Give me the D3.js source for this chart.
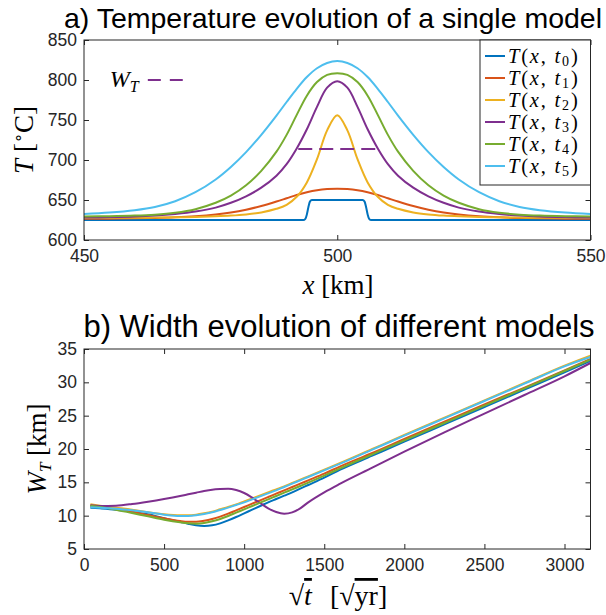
<!DOCTYPE html>
<html><head><meta charset="utf-8">
<script src="https://cdn.jsdelivr.net/npm/d3@7"></script>
<style>body{margin:0;background:#fff} svg{display:block}</style>
</head><body>
<svg id="c" width="606" height="615"></svg>
<script>
// ---------- DATA ----------
const colors = ["#0072BD","#D95319","#EDB120","#7E2F8E","#77AC30","#4DBEEE"];

// panel a: temperature profiles
const xKm0 = [450,493.3,493.7,494,494.3,494.6,495,505,505.4,505.7,506,506.3,506.7,550];
const T0   = [625,625,626.5,632,641,648,650,650,648,641,632,626.5,625,625];
const xKm = [450,455,460,464,468,472,476,479,482,485,488,490,492,494,496,498,500,502,504,506,508,510,512,515,518,521,524,528,532,536,540,545,550];
const T1 = [626.5,626.7,627.05,627.55,628.35,629.7,631.9,634.4,637.9,642.5,648.1,652.2,656.3,659.7,662.2,663.6,664,663.6,662.2,659.7,656.3,652.2,648.1,642.5,637.9,634.4,631.9,629.7,628.35,627.55,627.05,626.7,626.5];
const T2 = [627.5,627.6,627.8,628,628.3,628.8,629.6,630.5,632,634.5,639,644,654,672,701,737,756,737,701,672,654,644,639,634.5,632,630.5,629.6,628.8,628.3,628,627.8,627.6,627.5];
const T3 = [628,628.5,629.3,630.5,632.5,635.5,640.5,646.5,654.6,665.4,680.4,694.8,714.4,738.4,766.4,790.4,798.4,790.4,766.4,738.4,714.4,694.8,680.4,665.4,654.6,646.5,640.5,635.5,632.5,630.5,629.3,628.5,628];
const T4 = [629.5,629.8,630.5,631.7,634.1,638.5,646.5,655.5,668.4,686.4,710.4,731.4,756.4,780.4,797.4,806.4,808.4,806.4,797.4,780.4,756.4,731.4,710.4,686.4,668.4,655.5,646.5,638.5,634.1,631.7,630.5,629.8,629.5];
const T5 = [632.5,634.3,637.3,641.3,648.5,659.7,675.7,691.3,709.9,731.5,755.5,772.5,789,803.7,814.7,821.3,823.6,821.3,814.7,803.7,789,772.5,755.5,731.5,709.9,691.3,675.7,659.7,648.5,641.3,637.3,634.3,632.5];
const xTicksA = [450,500,550];
const yTicksA = [600,650,700,750,800,850];
const legendSubs = ["0","1","2","3","4","5"];
const wtLevel = 713.9, wtFrom = 492.3, wtTo = 507.7;      // W_T dashed marker
const wtKeyT = 800, wtKeyFrom = 462.6, wtKeyTo = 469.5;    // annotation key

// panel b: width evolution
const sqrtT = [40,100,200,300,400,500,600,650,700,750,800,850,900,950,1000,1050,1100,1150,1200,1250,1300,1350,1400,1500,1600,1800,2000,2250,2500,2750,3000,3162];
const W1 = [11.2,11.1,10.9,10.6,10.2,9.6,9.1,8.8,8.55,8.45,8.55,8.85,9.3,9.8,10.35,10.9,11.45,12.0,12.5,13.0,13.5,14.05,14.6,15.7,16.9,19.0,21.1,23.7,26.3,28.9,31.5,33.2];
const W2 = [11.5,11.3,11.0,10.6,10.1,9.6,9.2,9.1,9.1,9.25,9.5,9.85,10.3,10.8,11.3,11.8,12.3,12.8,13.3,13.8,14.3,14.8,15.3,16.3,17.4,19.4,21.5,24.1,26.7,29.2,31.8,33.5];
const W3 = [11.7,11.5,11.2,10.9,10.5,10.2,10.05,10.05,10.15,10.35,10.6,10.95,11.3,11.7,12.15,12.6,13.05,13.5,13.95,14.4,14.9,15.4,15.9,16.9,17.9,20.0,22.1,24.7,27.3,29.9,32.5,34.0];
const W4 = [11.55,11.45,11.5,11.75,12.1,12.5,12.95,13.2,13.45,13.7,13.9,14.0,14.05,13.85,13.4,12.7,11.9,11.1,10.55,10.3,10.5,11.1,12.0,13.5,14.8,17.2,19.6,22.5,25.3,28.1,30.9,32.9];
const W5 = [11.5,11.3,10.9,10.4,9.9,9.4,9.0,8.85,8.8,8.9,9.15,9.5,9.95,10.45,10.95,11.45,11.95,12.45,12.95,13.45,13.95,14.45,14.95,16.0,17.1,19.2,21.3,23.9,26.5,29.1,31.7,33.4];
const W6 = [11.25,11.2,11.05,10.8,10.5,10.15,9.95,9.95,10.05,10.25,10.5,10.85,11.2,11.6,12.0,12.45,12.9,13.35,13.8,14.3,14.8,15.3,15.8,16.8,17.8,19.9,22.0,24.6,27.2,29.8,32.4,33.8];
const xTicksB = [0,500,1000,1500,2000,2500,3000];
const yTicksB = [5,10,15,20,25,30,35];

// ---------- DRAW ----------
const svg = d3.select("#c");
const AX = "#262626";
const SANS = "'Liberation Sans', Arial, sans-serif";
const SERIF = "'Liberation Serif', 'Times New Roman', serif";

function frame(x, y, xt, yt) {
  const g = svg.append("g");
  const [x0,x1] = x.range(), [y1,y0] = y.range();
  const style = sel => {
    sel.select(".domain").remove();
    sel.selectAll("line").attr("stroke", AX);
    sel.selectAll("text").attr("fill", AX).style("font-family", SANS).style("font-size","17.5px");
  };
  g.append("g").attr("transform",`translate(0,${y1})`)
    .call(d3.axisBottom(x).tickValues(xt).tickSizeInner(-5).tickSizeOuter(0).tickPadding(10).tickFormat(d3.format("d"))).call(style);
  g.append("g").attr("transform",`translate(0,${y0})`)
    .call(d3.axisTop(x).tickValues(xt).tickSizeInner(-5).tickSizeOuter(0).tickFormat("")).call(style);
  g.append("g").attr("transform",`translate(${x0},0)`)
    .call(d3.axisLeft(y).tickValues(yt).tickSizeInner(-5).tickSizeOuter(0).tickPadding(7).tickFormat(d3.format("d"))).call(style);
  g.append("g").attr("transform",`translate(${x1},0)`)
    .call(d3.axisRight(y).tickValues(yt).tickSizeInner(-5).tickSizeOuter(0).tickFormat("")).call(style);
  g.append("rect").attr("x",x0).attr("y",y0).attr("width",x1-x0).attr("height",y1-y0)
    .attr("fill","none").attr("stroke",AX).attr("stroke-width",1);
}

// Panel a
const xA = d3.scaleLinear().domain([450,550]).range([84,590.5]);
const yA = d3.scaleLinear().domain([600,850]).range([240,40]);
const lineA = (xs, c) => d3.line().x((d,i)=>xA(xs[i])).y(d=>yA(d)).curve(c);
const seriesA = [T0,T1,T2,T3,T4,T5];
const gA = svg.append("g");
seriesA.forEach((s,k)=>{
  const c = k===0 ? d3.curveMonotoneX : d3.curveCatmullRom.alpha(0.5);
  gA.append("path").attr("d", lineA(k===0?xKm0:xKm, c)(s)).attr("fill","none")
    .attr("stroke",colors[k]).attr("stroke-width",2);
});
gA.append("line").attr("x1",xA(wtFrom)).attr("x2",xA(wtTo)).attr("y1",yA(wtLevel)).attr("y2",yA(wtLevel))
  .attr("stroke",colors[3]).attr("stroke-width",2).attr("stroke-dasharray","14,7");
gA.append("line").attr("x1",xA(wtKeyFrom)).attr("x2",xA(wtKeyTo)).attr("y1",yA(wtKeyT)).attr("y2",yA(wtKeyT))
  .attr("stroke",colors[3]).attr("stroke-width",2).attr("stroke-dasharray","13,9");
const wk = svg.append("text").attr("x",xA(wtKeyFrom)-38).attr("y",yA(wtKeyT)+7)
  .style("font-family",SERIF).style("font-size","24px").attr("fill","#000");
wk.append("tspan").style("font-style","italic").text("W");
wk.append("tspan").style("font-style","italic").style("font-size","16px").attr("dy",5).text("T");

frame(xA,yA,xTicksA,yTicksA);

// legend
const lg = svg.append("g");
lg.append("rect").attr("x",480).attr("y",40).attr("width",110.5).attr("height",145)
  .attr("fill","#fff").attr("stroke",AX).attr("stroke-width",1);
legendSubs.forEach((s,k)=>{
  const cy = 56 + k*22;
  lg.append("line").attr("x1",485).attr("x2",505).attr("y1",cy).attr("y2",cy)
    .attr("stroke",colors[k]).attr("stroke-width",2);
  const t = lg.append("text").attr("x",508).attr("y",cy+6.5)
    .style("font-family",SERIF).style("font-size","20.5px").style("letter-spacing","1.8px").attr("fill","#000");
  t.append("tspan").style("font-style","italic").text("T");
  t.append("tspan").text("(");
  t.append("tspan").style("font-style","italic").text("x");
  t.append("tspan").text(", ");
  t.append("tspan").style("font-style","italic").text("t");
  t.append("tspan").style("font-size","14px").attr("dy",3.5).text(s);
  t.append("tspan").attr("dy",-3.5).text(")");
});

// titles / labels panel a
svg.append("text").attr("x",333).attr("y",28).attr("text-anchor","middle")
  .style("font-family",SANS).style("font-size","28.5px").attr("fill","#000")
  .text("a) Temperature evolution of a single model");
const xlA = svg.append("text").attr("x",338).attr("y",294).attr("text-anchor","middle")
  .style("font-family",SERIF).style("font-size","27px").attr("fill","#000");
xlA.append("tspan").style("font-style","italic").text("x");
xlA.append("tspan").text(" [km]");
const ylA = svg.append("text").attr("transform","translate(33,140) rotate(-90)").attr("text-anchor","middle")
  .style("font-family",SERIF).style("font-size","27px").attr("fill","#000");
ylA.append("tspan").style("font-style","italic").text("T");
ylA.append("tspan").text(" [");
ylA.append("tspan").style("font-size","16px").attr("dy",-9).text("∘");
ylA.append("tspan").attr("dy",9).text("C]");

// Panel b
const xB = d3.scaleLinear().domain([0,3162.3]).range([84,590.5]);
const yB = d3.scaleLinear().domain([5,35]).range([549,349]);
const lineB = d3.line().x((d,i)=>xB(sqrtT[i])).y(d=>yB(d)).curve(d3.curveMonotoneX);
[W1,W2,W3,W4,W5,W6].forEach((s,k)=>{
  svg.append("path").attr("d",lineB(s)).attr("fill","none").attr("stroke",colors[k]).attr("stroke-width",2);
});
frame(xB,yB,xTicksB,yTicksB);

svg.append("text").attr("x",339).attr("y",337).attr("text-anchor","middle")
  .style("font-family",SANS).style("font-size","31px").attr("fill","#000")
  .text("b) Width evolution of different models");
const ylB = svg.append("text").attr("transform","translate(46,449) rotate(-90)").attr("text-anchor","middle")
  .style("font-family",SERIF).style("font-size","27px").attr("fill","#000");
ylB.append("tspan").style("font-style","italic").text("W");
ylB.append("tspan").style("font-style","italic").style("font-size","17px").attr("dy",5).text("T");
ylB.append("tspan").attr("dy",-5).text(" [km]");
const xlB = svg.append("text").attr("x",338).attr("y",605).attr("text-anchor","middle")
  .style("font-family",SERIF).style("font-size","28px").attr("fill","#000");
xlB.append("tspan").text("√");
xlB.append("tspan").style("font-style","italic").style("text-decoration","overline").text("t");
xlB.append("tspan").attr("dx",18).text("[√");
xlB.append("tspan").style("text-decoration","overline").text("yr");
xlB.append("tspan").text("]");
</script>
</body></html>
